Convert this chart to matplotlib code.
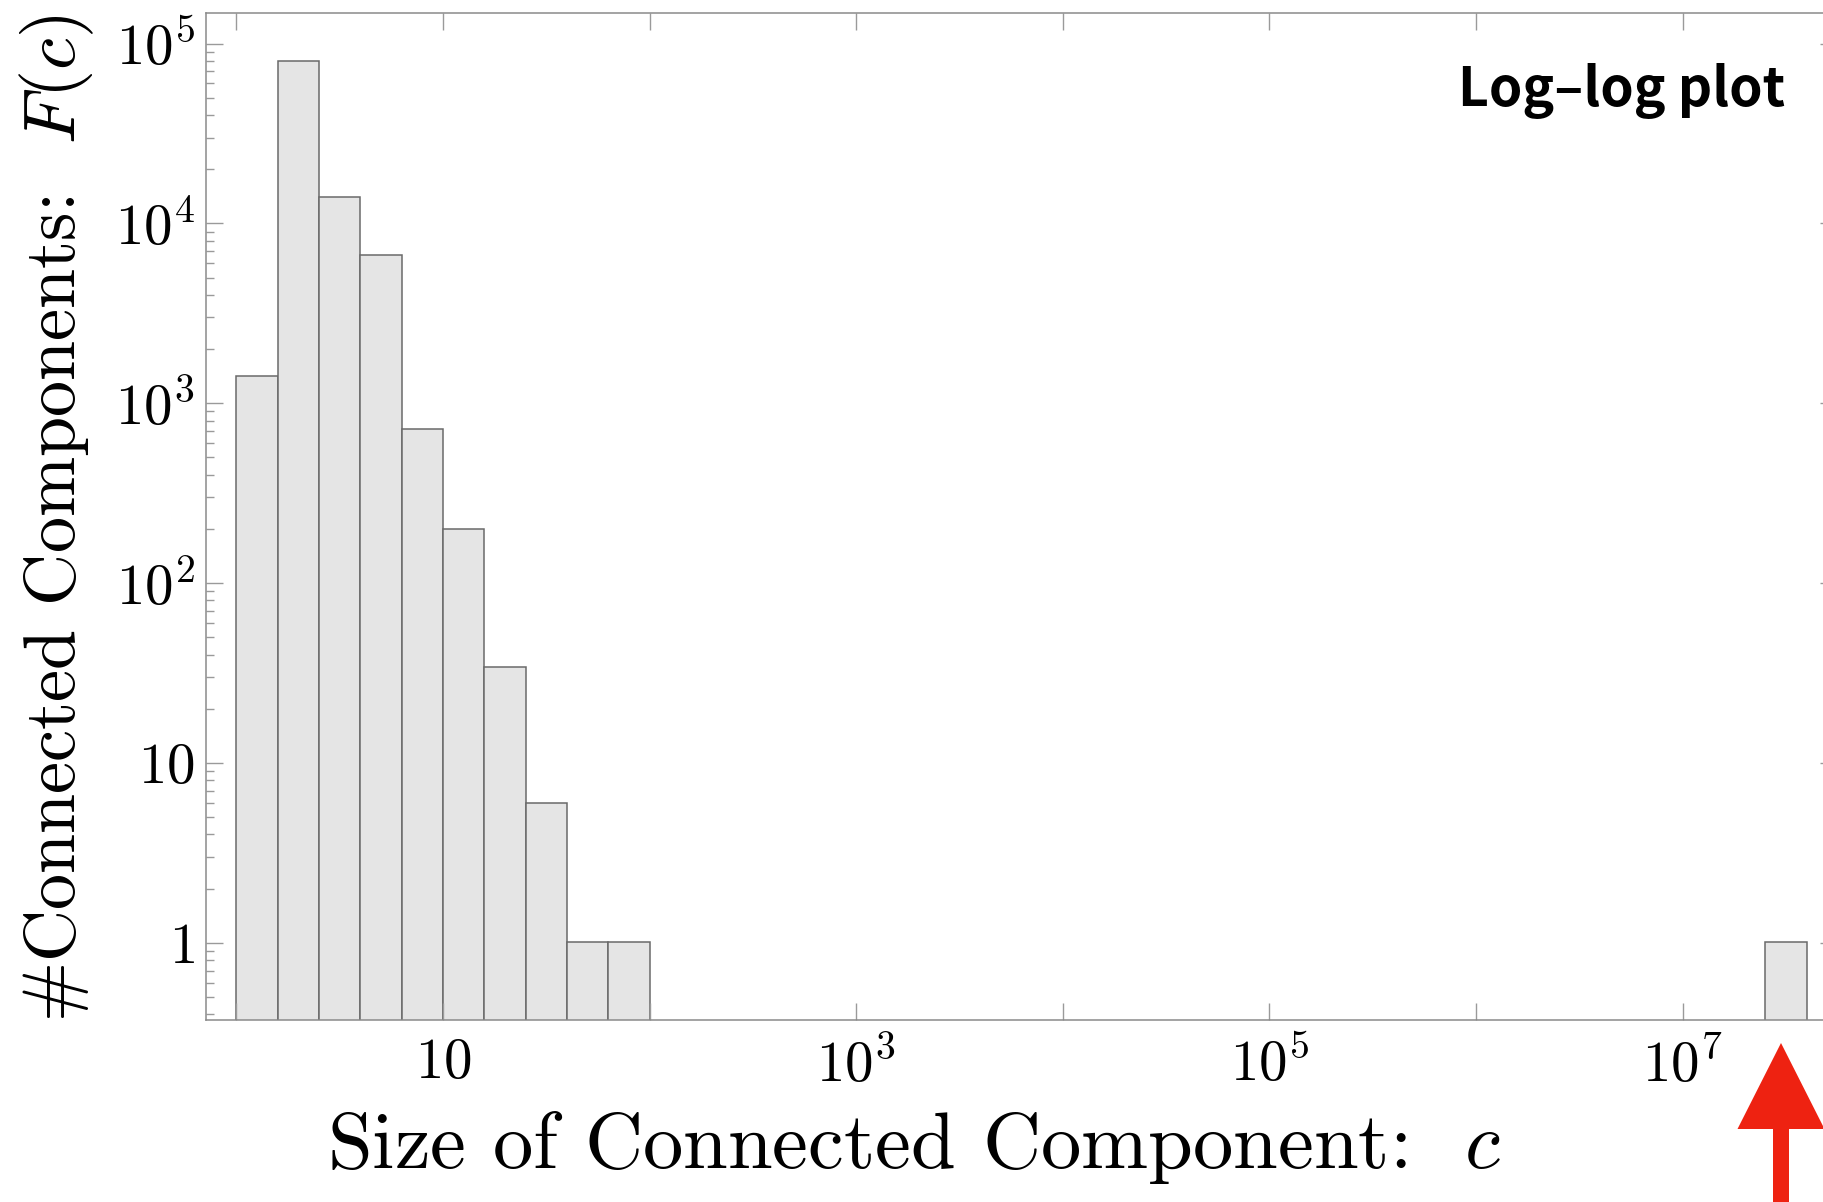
import numpy as np
import matplotlib
matplotlib.use("Agg")
import matplotlib.pyplot as plt
from matplotlib.patches import Polygon
from matplotlib.ticker import LogLocator, FixedLocator, FixedFormatter, NullLocator

# histogram of connected component sizes (log10 bins of width 0.2)
bin_lo_exp = [0.0, 0.2, 0.4, 0.6, 0.8, 1.0, 1.2, 1.4, 1.6, 1.8, 7.4]
bin_width_exp = 0.2
counts = [1420, 79900, 13960, 6640, 720, 200, 34, 6, 1, 1, 1]

x_ticks = [10, 1e3, 1e5, 1e7]
x_tick_labels = [r"$10$", r"$10^3$", r"$10^5$", r"$10^7$"]
y_ticks = [1, 10, 1e2, 1e3, 1e4, 1e5]
y_tick_labels = [r"$1$", r"$10$", r"$10^2$", r"$10^3$", r"$10^4$", r"$10^5$"]

plt.rcParams["font.family"] = "serif"
plt.rcParams["font.serif"] = ["cmr10"]
plt.rcParams["mathtext.fontset"] = "cm"
plt.rcParams["axes.unicode_minus"] = False

W, H = 1823, 1202
fig = plt.figure(figsize=(W / 100, H / 100), dpi=100)
# axes box in pixels (right spine runs slightly past the picture edge)
left, right, top, bottom = 206, 1837, 13, 1020
aw, ah = right - left, bottom - top
ax = fig.add_axes([left / W, 1 - bottom / H, aw / W, ah / H])

lo = 10 ** np.array(bin_lo_exp)
hi = 10 ** (np.array(bin_lo_exp) + bin_width_exp)
ax.bar(lo, counts, width=hi - lo, align="edge", bottom=0.01,
       color="#e5e5e5", edgecolor="#6a6a6a", linewidth=1.1)

ax.set_xscale("log")
ax.set_yscale("log")
ax.set_xlim(10 ** -0.147, 10 ** 7.747)
ax.set_ylim(10 ** -0.43, 10 ** 5.17)

decades = [10.0 ** k for k in range(0, 8)]
ax.xaxis.set_major_locator(FixedLocator(decades))
ax.xaxis.set_major_formatter(FixedFormatter(
    [x_tick_labels[x_ticks.index(d)] if d in x_ticks else "" for d in decades]))
ax.xaxis.set_minor_locator(NullLocator())
ax.yaxis.set_major_locator(FixedLocator(y_ticks))
ax.yaxis.set_major_formatter(FixedFormatter(y_tick_labels))
ax.yaxis.set_minor_locator(LogLocator(base=10, subs=np.arange(2, 10), numticks=20))

ax.tick_params(which="both", direction="in", top=True, right=True, color="#9a9a9a",
               width=1.0, labelsize=41, labelcolor="black")
ax.tick_params(which="major", length=12, pad=8)
ax.tick_params(axis="x", which="major", pad=13)
ax.tick_params(which="minor", length=6)
for s in ax.spines.values():
    s.set_color("#8a8a8a")
    s.set_linewidth(1.1)

ax.set_xlabel("Size of Connected Component:  $c$", fontsize=58)
ax.xaxis.set_label_coords((914 - left) / aw, -(1168 - bottom) / ah)
ax.xaxis.label.set_verticalalignment("baseline")
ax.set_ylabel("#Connected Components:  $F(c)$", fontsize=52)
ax.yaxis.set_label_coords((75 - left) / aw, (bottom - 518) / ah)
ax.yaxis.label.set_verticalalignment("baseline")

fig.text(1785 / W, 1 - 106 / H, "Log–log plot", ha="right", va="baseline",
         fontsize=38.5, fontweight="bold", family=["Noto Sans CJK JP", "DejaVu Sans"])

# red arrow pointing at the giant component
px = lambda x, y: ((x) / 100, (H - y) / 100)
arrow = [px(1781, 1043), px(1824.5, 1129), px(1789, 1129), px(1789, 1210),
         px(1773, 1210), px(1773, 1129), px(1737.5, 1129)]
fig.patches.append(Polygon(arrow, closed=True, facecolor="#ee2211", edgecolor="none",
                           transform=fig.dpi_scale_trans, figure=fig))

fig.savefig("out.png", dpi=100)
